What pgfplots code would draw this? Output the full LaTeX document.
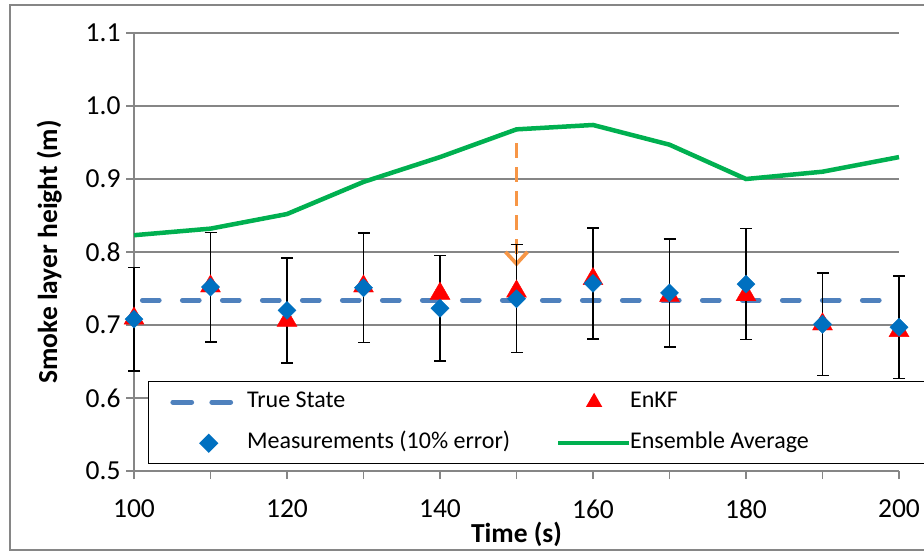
\documentclass[border=0pt]{standalone}
\usepackage{fontspec}
\setmainfont{Carlito}
\usepackage{pgfplots}
\pgfplotsset{compat=1.18}
\usepackage{pgfplotstable}
\usetikzlibrary{arrows.meta}

\definecolor{axisgray}{HTML}{868686}
\definecolor{truthblue}{HTML}{4F81BD}
\definecolor{measblue}{HTML}{0070C0}
\definecolor{ensgreen}{HTML}{00B050}
\definecolor{arroworange}{HTML}{F79646}

% time, true state, measurement, 10% error, EnKF estimate, ensemble average
\pgfplotstableread{
t    truth  meas   err    enkf   ens
100  0.734  0.708  0.071  0.713  0.823
110  0.734  0.752  0.075  0.757  0.832
120  0.734  0.720  0.072  0.710  0.852
130  0.734  0.751  0.075  0.757  0.896
140  0.734  0.723  0.072  0.747  0.930
150  0.734  0.736  0.074  0.750  0.968
160  0.734  0.757  0.076  0.767  0.974
170  0.734  0.744  0.074  0.744  0.947
180  0.734  0.756  0.076  0.745  0.900
190  0.734  0.701  0.070  0.705  0.910
200  0.734  0.697  0.070  0.696  0.930
}\data

\newcommand{\legendfont}{\fontsize{24bp}{29bp}\selectfont}
\newcommand{\axisfont}{\fontsize{27.5bp}{33bp}\selectfont}

\begin{document}
\begin{tikzpicture}
\useasboundingbox (0bp,0bp) rectangle (924bp,553bp);
\draw[axisgray, line width=1.3bp] (10bp,3bp) rectangle (940bp,548bp);
\begin{axis}[
  at={(134bp,82bp)}, anchor=south west,
  scale only axis, width=765bp, height=438bp,
  xmin=100, xmax=200, ymin=0.5, ymax=1.1,
  clip=false,
  axis x line*=bottom, axis y line*=left,
  xtick pos=bottom, ytick pos=left,
  axis line style={axisgray, line width=1.3bp, -},
  xtick={100,120,...,200}, minor xtick={110,130,...,190},
  ytick={0.5,0.6,0.7,0.8,0.9,1.0,1.1},
  tick align=outside,
  major tick length=8bp, minor tick length=8bp,
  every tick/.style={axisgray, line width=1.3bp},
  ymajorgrids, grid style={axisgray, line width=1.3bp},
  tick label style={font=\axisfont, black},
  yticklabel style={xshift=-2bp, /pgf/number format/.cd, fixed, fixed zerofill, precision=1, assume math mode=true},
  xticklabel style={yshift=-17bp, /pgf/number format/assume math mode=true},
  label style={font=\axisfont\bfseries},
  xlabel={Time (s)},
  xlabel style={at={(axis description cs:0.5,-0.163)}, anchor=base, inner sep=0pt},
  legend columns=2,
  legend cell align=left,
  legend style={
    at={(axis description cs:0.0183,0.2055)}, anchor=north west,
    draw=black, line width=1.5bp, fill=white,
    font=\legendfont,
    inner xsep=21bp, inner ysep=11bp,
    row sep=22bp, column sep=0pt,
    /tikz/every odd column/.append style={column sep=12bp},
    nodes={inner sep=0pt, text height=15bp, text depth=4bp},
  },
]
% ensemble average
\addplot[forget plot, ensgreen, line width=4.5bp] table[x=t, y=ens]{\data};
% true state
\addplot[forget plot, truthblue, line width=4.7bp, line cap=round,
  dash pattern=on 17bp off 23bp, dash phase=31.7bp] table[x=t, y=truth]{\data};
% annotation arrow
\draw[arroworange, line width=3.7bp, dash pattern=on 15bp off 9bp,
  -{Straight Barb[length=12bp, width=22bp]}]
  (axis cs:150,0.949) -- (axis cs:150,0.780);
% measurement error bars
\addplot[forget plot, draw=none, mark=none,
  error bars/.cd, y dir=both, y explicit,
  error bar style={draw=black, line width=1.5bp, solid},
  error mark options={draw=black, line width=1.5bp, mark size=6bp, rotate=90}]
  table[x=t, y=meas, y error=err]{\data};
% EnKF estimates
\addplot[forget plot, only marks, mark=triangle*, mark size=11.5bp,
  mark options={draw=red, fill=red, yshift=-2.9bp}] table[x=t, y=enkf]{\data};
% measurements
\addplot[forget plot, only marks, mark=square*, mark size=6.4bp,
  mark options={draw=measblue, fill=measblue, rotate=45}] table[x=t, y=meas]{\data};

\addlegendimage{legend image code/.code={
  \path[draw=none] (0bp,0bp) -- (63bp,0bp);
  \draw[truthblue, line width=4.7bp, line cap=round, dash pattern=on 19bp off 20bp]
    (3bp,0bp) -- (63bp,0bp);}}
\addlegendentry{\makebox[311bp][l]{True State}}
\addlegendimage{legend image code/.code={
  \path[draw=none] (0bp,0bp) -- (60bp,0bp);
  \path[draw=red, fill=red] plot[mark=triangle*, mark size=8bp] coordinates {(36bp,0bp)};}}
\addlegendentry{\makebox[293bp][l]{EnKF}}
\addlegendimage{legend image code/.code={
  \path[draw=none] (0bp,0bp) -- (63bp,0bp);
  \path[draw=measblue, fill=measblue] plot[mark=square*, mark size=6bp, mark options={rotate=45}] coordinates {(39bp,0bp)};}}
\addlegendentry{\makebox[311bp][l]{Measurements (10\% error)}}
\addlegendimage{legend image code/.code={
  \path[draw=none] (0bp,0bp) -- (60bp,0bp);
  \draw[overlay, ensgreen, line width=4.5bp] (0bp,0bp) -- (71bp,0bp);}}
\addlegendentry{\makebox[293bp][l]{Ensemble Average}}
\end{axis}
\node[rotate=90, anchor=base, inner sep=0pt, font=\axisfont\bfseries]
  at (57bp,301bp) {Smoke layer height (m)};
\end{tikzpicture}
\end{document}
